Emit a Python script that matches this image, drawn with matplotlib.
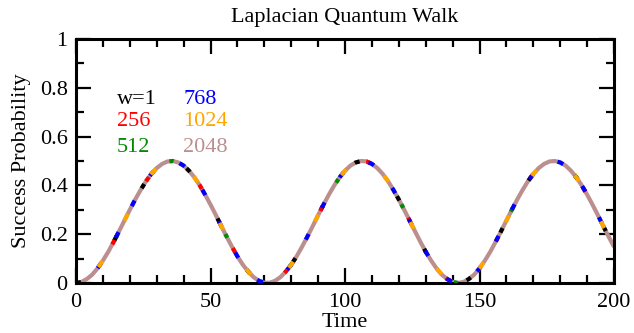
import matplotlib
matplotlib.use("Agg")
import matplotlib.pyplot as plt
from matplotlib.ticker import MultipleLocator, FuncFormatter

plt.rcParams['font.family'] = ['Liberation Serif', 'DejaVu Serif']

time = list(range(0, 201, 2))
prob = [0, .004, .016, .034, .060, .092, .128, .169, .212, .256, .300, .342, .381, .417, .447, .471, .488, .498,
        .500, .494, .481, .460, .433, .400, .362, .321, .278, .233, .190, .148, .109, .075, .047, .024, .009, .001,
        .001, .009, .024, .047, .075, .109, .148, .190, .233, .278, .321, .362, .400, .433, .460, .481, .494, .500,
        .498, .488, .471, .447, .417, .381, .342, .300, .256, .212, .169, .128, .092, .060, .034, .016, .004,
        0, .004, .016, .034, .060, .092, .128, .169, .212, .256, .300, .342, .381, .417, .447, .471, .488, .498,
        .500, .494, .481, .460, .433, .400, .362, .321, .278, .233, .190, .148]

widths = ['w=1', '256', '512', '768', '1024', '2048']
colors = ['black', 'red', '#008B00', 'blue', 'orange', '#BC8F8F']

fig = plt.figure(figsize=(6.34, 3.33), dpi=100)
ax = fig.add_axes([0.1199, 0.1502, 0.8486, 0.7327])

# base (2048) drawn solid, others dashed over it
ax.plot(time, prob, color=colors[5], lw=3.0, solid_capstyle='butt', zorder=2)
dash_styles = [(0, (1.2, 13)), (4, (1.2, 16)), (8, (1.0, 22)), (2, (1.5, 7)), (6, (1.8, 11))]
for i in range(5):
    ax.plot(time, prob, color=colors[i], lw=3.0, linestyle=dash_styles[i], zorder=3)

ax.set_xlim(0, 200)
ax.set_ylim(0, 1)
ax.xaxis.set_major_locator(MultipleLocator(50))
ax.xaxis.set_minor_locator(MultipleLocator(10))
ax.yaxis.set_major_locator(MultipleLocator(0.2))
ax.yaxis.set_minor_locator(MultipleLocator(0.1))
ax.yaxis.set_major_formatter(FuncFormatter(lambda v, p: '%g' % round(v, 2)))
ax.tick_params(which='both', direction='in', top=True, right=True, width=1.6, labelsize=16)
ax.tick_params(which='major', length=11, pad=6)
ax.tick_params(which='minor', length=5.5)
ax.tick_params(axis='x', which='major', pad=7)
for s in ax.spines.values():
    s.set_linewidth(2.2)

ax.set_title('Laplacian Quantum Walk', fontsize=16, pad=12)
ax.set_xlabel('Time', fontsize=16, labelpad=1)
ax.set_ylabel('Success Probability', fontsize=16, labelpad=6)

# legend as text
xs = [15.2, 15.2, 15.2, 39.8, 39.8, 39.8]
ys = [0.75, 0.66, 0.557, 0.75, 0.66, 0.557]
for lab, c, x, y in zip(widths, colors, xs, ys):
    ax.text(x, y, lab, color=c, fontsize=16, ha='left', va='center')

fig.savefig('out.png', dpi=100)
